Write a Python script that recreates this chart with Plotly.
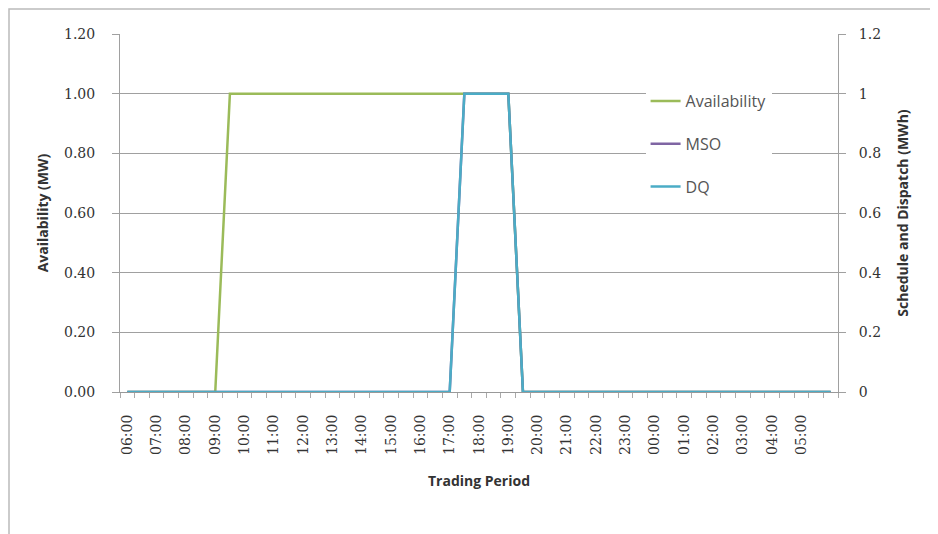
import plotly.graph_objects as go

hours = ["06", "07", "08", "09", "10", "11", "12", "13", "14", "15", "16", "17",
         "18", "19", "20", "21", "22", "23", "00", "01", "02", "03", "04", "05"]
periods = []
for h in hours:
    periods += [h + ":00", h + ":30"]
periods.append("06:00 ")  # closing period

availability = [0, 0, 0, 0, 0, 0, 0, 1, 1, 1, 1, 1, 1, 1, 1, 1, 1, 1, 1, 1, 1, 1, 1, 1, 1, 1, 1,
                0, 0, 0, 0, 0, 0, 0, 0, 0, 0, 0, 0, 0, 0, 0, 0, 0, 0, 0, 0, 0, 0]
mso = [0] * 23 + [1, 1, 1, 1] + [0] * 22
dq = [0] * 23 + [1, 1, 1, 1] + [0] * 22

left_ticks = [0, 0.2, 0.4, 0.6, 0.8, 1.0, 1.2]
right_ticks = [0, 0.2, 0.4, 0.6, 0.8, 1.0, 1.2]

x_idx = list(range(len(periods)))
label_idx = [i for i in x_idx if periods[i].endswith(":00") and i < 48]
label_txt = [periods[i] for i in label_idx]

SANS = "'Open Sans', Lato, sans-serif"
SERIF = "'DejaVu Serif', serif"
TXT = "#333333"

fig = go.Figure()
fig.add_trace(go.Scatter(x=x_idx, y=availability, name="Availability", mode="lines",
                         legendgroup="a", line=dict(color="#9BBB59", width=2.5)))
fig.add_trace(go.Scatter(x=x_idx, y=mso, name="MSO", mode="lines", yaxis="y2",
                         legendgroup="b", line=dict(color="#7F65A3", width=2.5)))
fig.add_trace(go.Scatter(x=x_idx, y=dq, name="DQ", mode="lines", yaxis="y2",
                         legendgroup="c", line=dict(color="#4BACC6", width=2.5)))

# page has an 8px body margin; margins are set so the plot box spans x 120-838, y 34-392
fig.update_layout(
    width=938, height=534,
    margin=dict(l=112, r=108, t=26, b=150),
    paper_bgcolor="white", plot_bgcolor="white",
    font=dict(family=SANS, size=12, color=TXT),
    showlegend=True,
    legend=dict(x=0.732, y=0.86, xanchor="left", yanchor="top",
                bgcolor="white", font=dict(family=SANS, size=16, color="#555555"),
                tracegroupgap=19, traceorder="grouped", itemwidth=30,
                entrywidth=125, entrywidthmode="pixels"),
    xaxis=dict(
        range=[-0.5, 48.5], tickmode="array", tickvals=label_idx, ticktext=label_txt,
        tickangle=-90, ticks="", showgrid=False, zeroline=False,
        showline=True, linecolor="#999999", linewidth=1,
        tickfont=dict(family=SERIF, size=14, color=TXT), ticklabelstandoff=16,
        minor=dict(tickmode="array", tickvals=[i - 0.5 for i in range(50)],
                   ticks="outside", ticklen=5, tickcolor="#AAAAAA", showgrid=False),
        title=dict(text="<b>Trading Period</b>", font=dict(family=SANS, size=14, color=TXT), standoff=22),
    ),
    yaxis=dict(
        range=[0, 1.2], tickmode="array", tickvals=left_ticks,
        ticktext=["%.2f" % v for v in left_ticks],
        showgrid=True, gridcolor="#A0A0A0", gridwidth=1, zeroline=False,
        showline=True, linecolor="#A0A0A0", ticks="outside", ticklen=7, tickcolor="#A0A0A0",
        tickfont=dict(family=SERIF, size=14, color=TXT), ticklabelstandoff=14,
        title=dict(text="<b>Availability (MW)</b>", font=dict(family=SANS, size=14, color=TXT), standoff=12),
    ),
    yaxis2=dict(
        range=[0, 1.2], overlaying="y", side="right", tickmode="array", tickvals=right_ticks,
        ticktext=["%g" % v for v in right_ticks],
        showgrid=False, zeroline=False,
        showline=True, linecolor="#A0A0A0", ticks="outside", ticklen=7, tickcolor="#A0A0A0",
        tickfont=dict(family=SERIF, size=14, color=TXT), ticklabelstandoff=10,
        title=dict(text="<b>Schedule and Dispatch (MWh)</b>", font=dict(family=SANS, size=14, color=TXT), standoff=18),
    ),
    shapes=[dict(type="rect", xref="paper", yref="paper",
                 x0=(1 - 112) / 718, x1=(980 - 112) / 718,
                 y0=(392 - 600) / 358, y1=1 + 25 / 358,
                 line=dict(color="#BBBBBB", width=1.5), fillcolor="rgba(0,0,0,0)", layer="below")],
)

fig.write_html("out.html")
